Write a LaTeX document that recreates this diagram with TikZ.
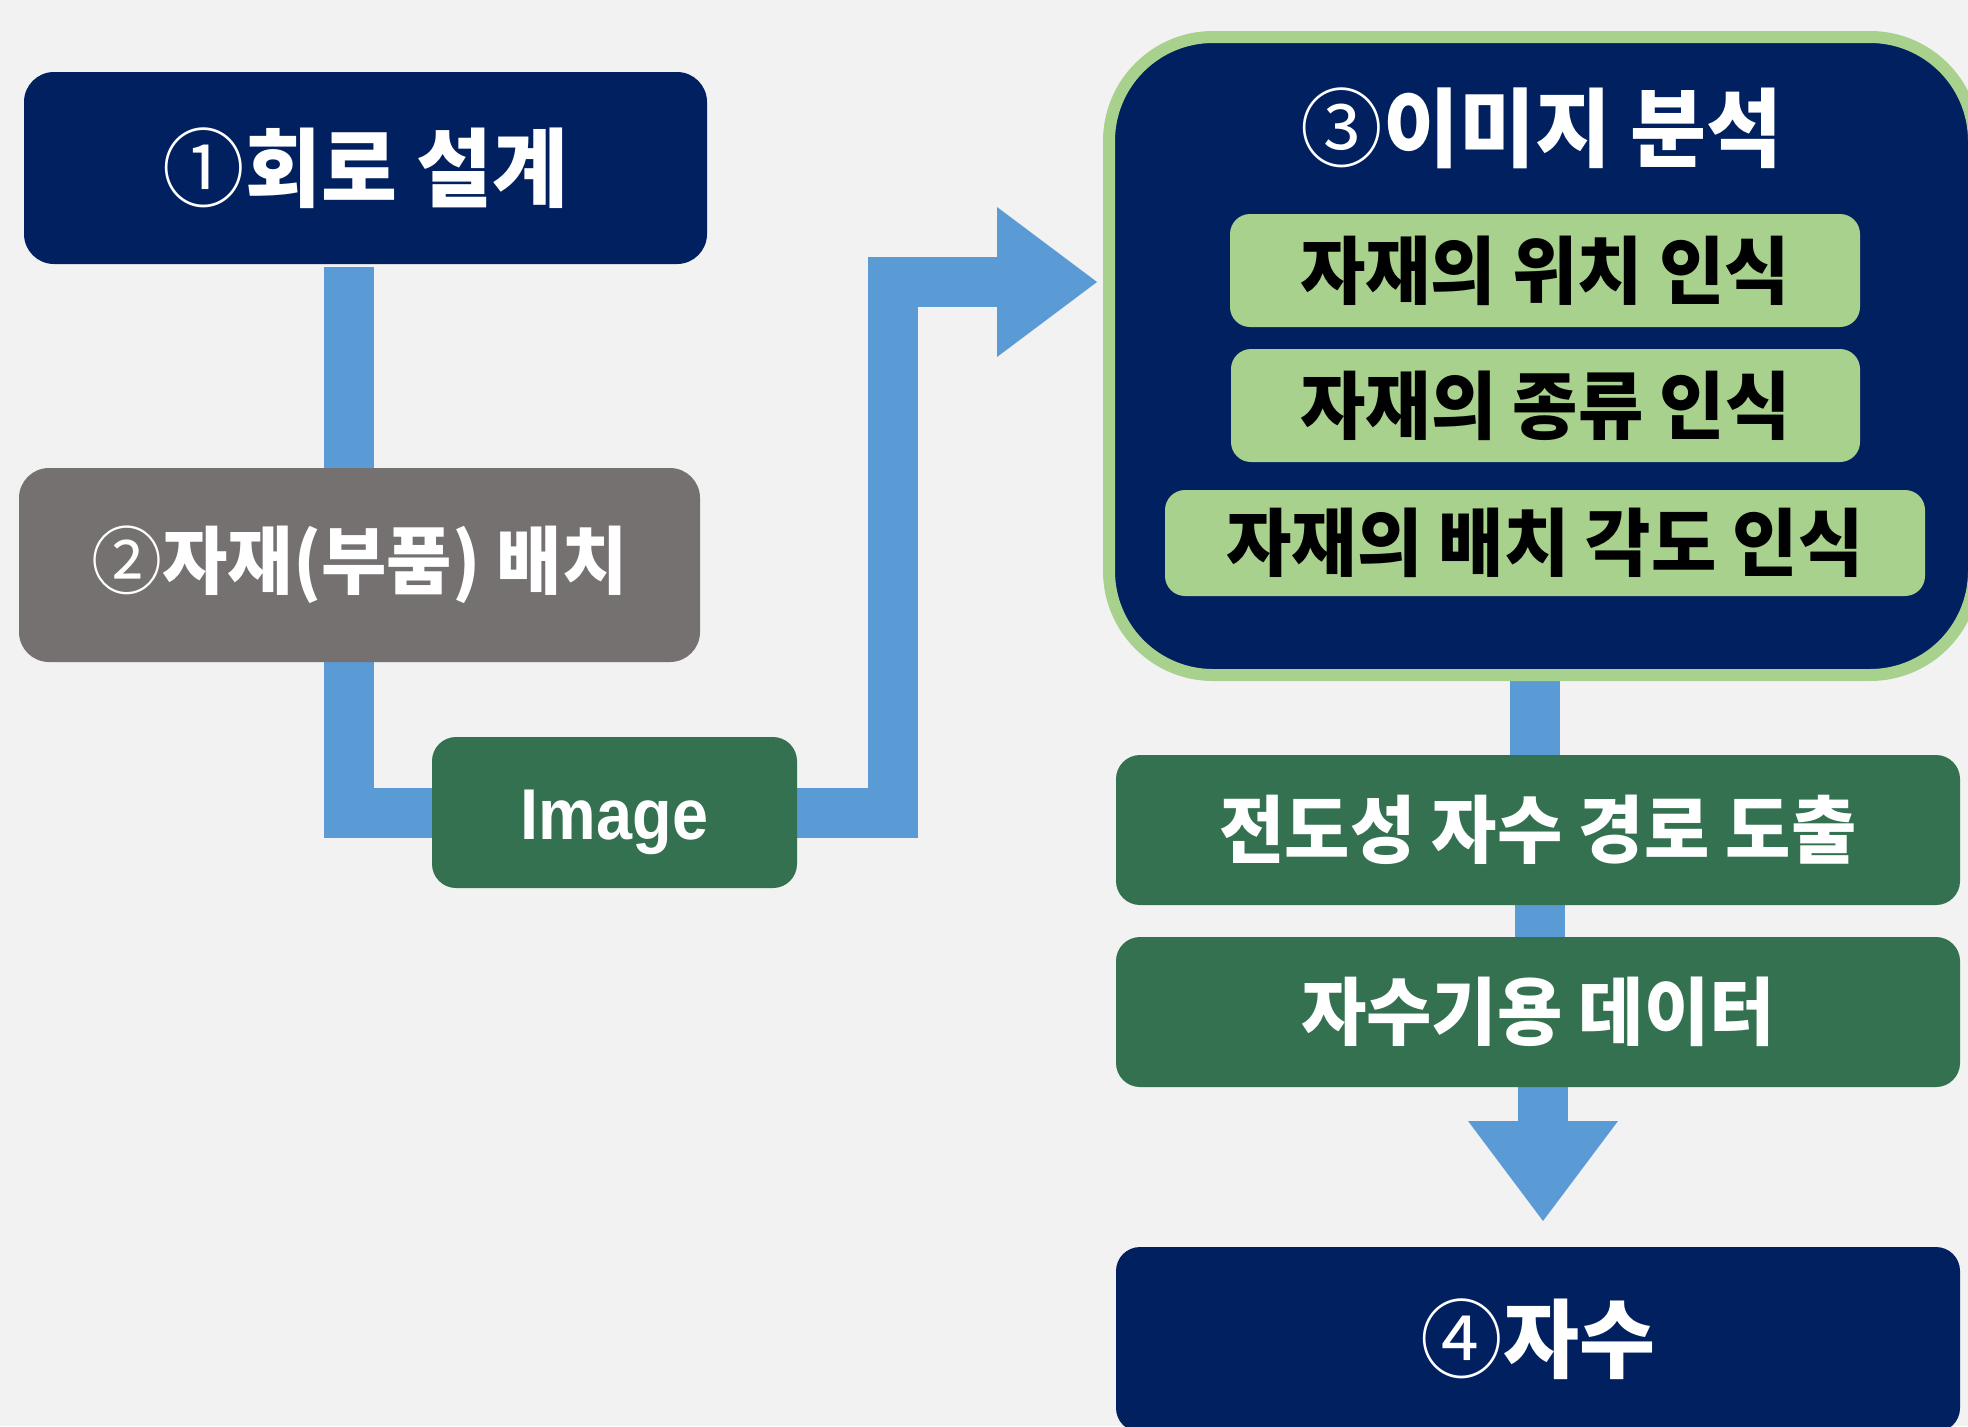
\documentclass[tikz,border=0pt]{standalone}
\usepackage{fontspec}
\setmainfont{Liberation Sans}
\newfontfamily\kr{Noto Sans CJK KR}[FakeStretch=0.96]
\newfontfamily\imgfont{Liberation Sans}[FakeStretch=0.9]
\usetikzlibrary{arrows.meta,backgrounds}
\definecolor{bg}{HTML}{F2F2F2}
\definecolor{navy}{HTML}{002060}
\definecolor{graybox}{HTML}{767171}
\definecolor{dkgreen}{HTML}{337150}
\definecolor{ltgreen}{HTML}{A9D18E}
\definecolor{flowblue}{HTML}{5B9BD5}
\newcommand{\bigtxt}{\kr\bfseries\fontsize{43pt}{50pt}\selectfont}
\newcommand{\smalltxt}{\kr\bfseries\fontsize{37pt}{44pt}\selectfont}
\newcommand{\circnum}[1]{{\mdseries #1}}
\tikzset{
  box/.style={rectangle, rounded corners=15pt, inner sep=0pt, outer sep=0pt, align=center},
  navybox/.style={box, fill=navy, text=white, font=\bigtxt},
  graybx/.style={box, fill=graybox, text=white, font=\smalltxt},
  greenbx/.style={box, rounded corners=12pt, fill=dkgreen, text=white, font=\smalltxt},
  subbx/.style={box, rounded corners=10pt, fill=ltgreen, text=black, font=\smalltxt},
  flow/.style={draw=flowblue, line width=25pt, line join=miter},
  bigtip/.style={-{Triangle[length=50pt,width=75pt,line width=0pt]}},
}
\begin{document}
\begin{tikzpicture}[x=0.5pt,y=-0.5pt]
\useasboundingbox (0,0) rectangle (1968,1426);
% left column
\node[navybox, minimum width=341.5pt, minimum height=96pt] (b1) at (365.5,168) {\circnum{①}회로 설계};
\node[graybx, rounded corners=15pt, minimum width=340.5pt, minimum height=97pt] (b2) at (359.5,565) {\circnum{②}자재(부품) 배치};
\node[greenbx, minimum width=182.5pt, minimum height=75.5pt, font=\imgfont\bfseries\fontsize{36pt}{40pt}\selectfont] (img) at (614.5,812.5) {\raisebox{-5pt}[\height][\depth]{Image}};
% image analysis
\node[box, rounded corners=52pt, fill=navy, draw=ltgreen, line width=6pt, outer sep=3pt,
      minimum width=432.5pt, minimum height=319pt] (b3) at (1541.5,356) {};
\node[text=white, font=\bigtxt, inner sep=0pt] (t3) at (1541.5,128) {\circnum{③}이미지 분석};
\node[subbx, minimum width=315pt, minimum height=56.5pt] (s1) at (1545,270.5) {자재의 위치 인식};
\node[subbx, minimum width=314.5pt, minimum height=56.5pt] (s2) at (1545.5,405.5) {자재의 종류 인식};
\node[subbx, minimum width=380pt, minimum height=53pt] (s3) at (1545,543) {자재의 배치 각도 인식};
% right column
\node[greenbx, minimum width=422pt, minimum height=75pt] (e1) at (1538,830) {전도성 자수 경로 도출};
\node[greenbx, minimum width=422pt, minimum height=75pt] (e2) at (1538,1012) {자수기용 데이터};
\node[navybox, rounded corners=12pt, minimum width=422pt, minimum height=92.5pt] (e4) at (1538,1339.5) {\circnum{④}자수};
% connectors and background
\begin{scope}[on background layer]
\fill[bg] (0,0) rectangle (1968,1426);
\draw[flow, shorten <=1.5pt] ([xshift=-8.25pt]b1.south) -- ([xshift=-8.25pt]b1.south |- b2.north);
\draw[flow] ([xshift=-5.25pt]b2.south) |- (img.west);
\draw[flow, bigtip, shorten >=3pt] (img.east) -- ++(96,0) |- ([yshift=37pt]b3.west);
\draw[flow] ([xshift=-1.5pt]e1.north) -- ([xshift=-1.5pt]e1.north |- b3.south);
\draw[flow] ([xshift=1pt]e2.north) -- ([xshift=1pt]e2.north |- e1.south);
\draw[flow, bigtip, shorten >=13pt] ([xshift=2.5pt]e2.south) -- ([xshift=2.5pt]e2.south |- e4.north);
\end{scope}
\end{tikzpicture}
\end{document}
